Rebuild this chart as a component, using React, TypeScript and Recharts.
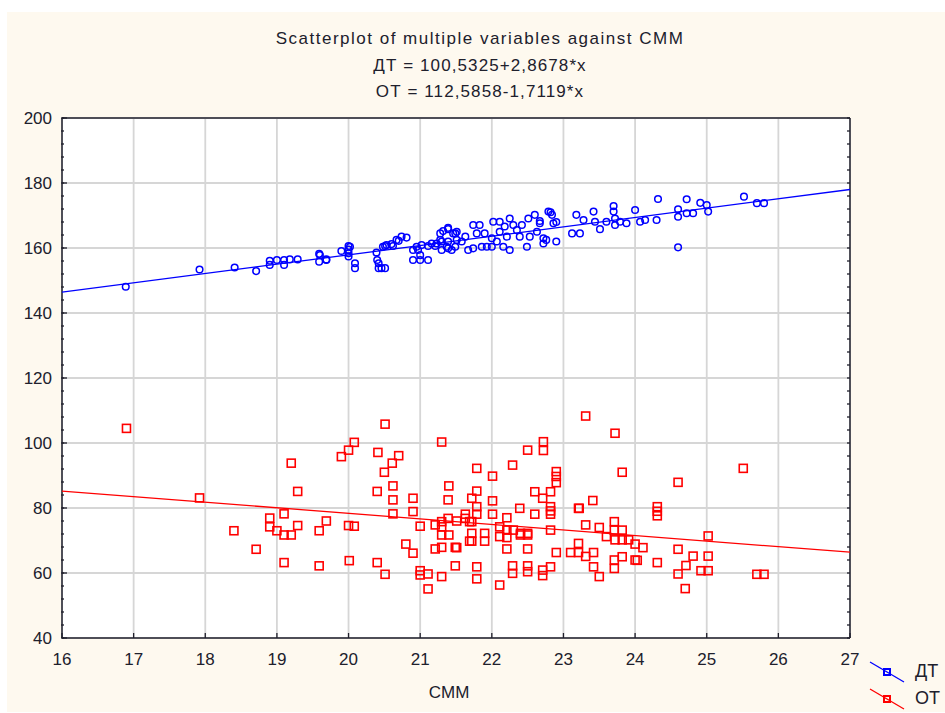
import React from 'react';
import {
  ComposedChart,
  Scatter,
  XAxis,
  YAxis,
  CartesianGrid,
  Legend,
} from 'recharts';

const dtPoints: [number, number][] = [
  [16.89, 148.1], [17.92, 153.4], [18.41, 154.0], [18.71, 152.9],
  [18.9, 156.1], [18.9, 154.8], [19.0, 156.3], [19.1, 156.3], [19.18, 156.5], [19.29, 156.5], [19.1, 154.8],
  [19.59, 158.2], [19.59, 155.8], [19.69, 156.5], [19.6, 157.8], [19.69, 156.3],
  [19.9, 159.1], [20.0, 160.6], [20.0, 158.4], [20.09, 155.3], [20.09, 153.8], [20.0, 159.5], [20.02, 160.4], [20.0, 157.4],
  [20.39, 158.6], [20.4, 156.3], [20.42, 153.8], [20.51, 153.8], [20.46, 153.8], [20.42, 155.3],
  [20.51, 160.6], [20.6, 161.2], [20.7, 162.2], [20.81, 163.2], [20.62, 160.6], [20.48, 160.4], [20.53, 160.9], [20.67, 162.5], [20.74, 163.5],
  [20.9, 159.4], [20.9, 156.3], [21.0, 156.3], [21.11, 156.3], [21.0, 157.8], [21.02, 160.9], [21.11, 160.6], [21.21, 160.6], [20.95, 160.4], [20.97, 159.4], [21.16, 161.4], [21.23, 161.4],
  [21.28, 164.5], [21.39, 165.8], [21.49, 164.5], [21.3, 159.4], [21.39, 159.9], [21.49, 160.4], [21.3, 162.0], [21.39, 162.0],
  [21.32, 165.2], [21.39, 166.2], [21.28, 162.5], [21.37, 160.4], [21.46, 164.5], [21.51, 165.0], [21.51, 162.5], [21.58, 162.0], [21.63, 163.5],
  [21.67, 159.4], [21.74, 159.9], [21.74, 167.1], [21.83, 167.1], [21.9, 164.5], [21.79, 164.5], [21.86, 160.4], [21.93, 160.4], [21.44, 159.4],
  [22.0, 163.0], [22.02, 168.1], [22.11, 168.1], [22.11, 165.0], [22.18, 166.6], [22.21, 163.5], [22.25, 169.1], [22.3, 167.1], [22.35, 165.5],
  [22.39, 163.5], [22.42, 167.1], [22.51, 169.1], [22.53, 163.5], [22.6, 170.2], [22.63, 165.0], [22.67, 167.6], [22.72, 161.4], [22.79, 171.2],
  [22.84, 170.2], [22.86, 167.6], [22.9, 162.0], [22.76, 162.5], [22.16, 160.4], [22.25, 159.4], [22.49, 160.4], [22.07, 162.0], [22.0, 160.4],
  [22.82, 171.0], [22.9, 168.0], [22.67, 168.3], [22.72, 163.0],
  [23.18, 170.2], [23.23, 164.5], [23.12, 164.5], [23.28, 168.6], [23.42, 171.2], [23.44, 168.1], [23.51, 165.8], [23.6, 168.1], [23.7, 172.9],
  [23.7, 171.2], [23.72, 167.1], [23.72, 169.1], [23.79, 168.1], [23.88, 167.6], [24.0, 171.7], [24.07, 168.1], [24.14, 168.6], [24.3, 168.6],
  [24.32, 175.1], [24.6, 171.9], [24.6, 169.6], [24.72, 175.0], [24.72, 170.7], [24.81, 170.7], [24.91, 173.9], [25.0, 173.2], [25.02, 171.2],
  [25.52, 175.8], [25.7, 173.8], [25.8, 173.8], [24.6, 160.2],
];

const otPoints: [number, number][] = [
  [16.9, 104.5], [17.92, 83.1], [18.4, 73.0], [18.71, 67.3], [18.9, 76.9], [18.9, 74.2], [19.0, 73.0], [19.1, 78.2], [19.2, 93.8],
  [19.1, 71.7], [19.2, 71.7], [19.29, 85.1], [19.29, 74.6], [19.1, 63.2], [19.59, 73.0], [19.69, 76.0], [19.59, 62.2],
  [19.9, 95.8], [20.0, 97.8], [20.08, 100.2], [20.0, 74.6], [20.08, 74.4], [20.01, 63.8],
  [20.51, 105.8], [20.41, 97.1], [20.7, 96.1], [20.61, 93.8], [20.5, 91.0], [20.4, 85.1], [20.62, 86.8], [20.62, 82.5], [20.62, 78.2],
  [20.4, 63.2], [20.51, 59.6],
  [20.9, 83.0], [20.9, 78.9], [21.0, 74.4], [20.8, 68.9], [20.9, 66.1], [21.0, 60.7], [21.0, 59.4], [21.11, 59.7], [21.11, 55.1],
  [21.3, 100.3], [21.4, 86.8], [21.39, 82.5], [21.39, 76.8], [21.21, 74.8], [21.3, 74.2], [21.3, 71.7], [21.4, 71.7], [21.21, 67.4],
  [21.3, 67.9], [21.49, 67.9], [21.49, 62.2], [21.3, 58.9],
  [21.3, 75.8], [21.51, 76.0], [21.63, 76.8], [21.69, 75.8], [21.69, 69.8], [21.51, 67.8],
  [22.5, 97.8], [22.72, 100.4], [22.72, 97.7], [21.79, 92.2], [22.29, 93.2], [22.01, 89.8], [22.9, 91.2], [22.9, 89.7], [22.9, 87.8],
  [21.79, 85.2], [22.6, 85.0], [22.82, 85.0], [22.71, 83.0], [21.72, 83.0], [22.01, 82.2], [22.82, 80.4], [22.82, 79.1], [22.82, 78.1],
  [22.39, 79.9], [22.6, 78.1], [23.21, 79.9], [23.41, 82.3], [21.79, 80.4], [21.79, 78.1], [21.63, 78.1], [22.01, 78.1], [22.21, 77.0], [21.72, 75.8],
  [22.11, 74.2], [22.21, 73.2], [22.3, 73.2], [22.4, 72.2], [22.5, 72.2], [22.82, 73.2], [23.31, 74.8], [23.5, 74.0], [23.71, 75.8],
  [23.71, 73.2], [23.82, 73.2],
  [21.72, 72.2], [21.72, 69.8], [21.9, 72.2], [21.9, 69.8], [22.11, 71.2], [22.21, 70.9], [22.4, 71.7], [22.5, 71.7],
  [22.21, 67.4], [22.5, 67.4], [22.9, 66.3], [23.1, 66.3], [23.21, 69.1], [23.21, 66.3], [23.31, 65.1], [23.42, 66.3], [23.42, 61.9],
  [23.5, 58.9], [23.71, 64.0], [23.82, 65.0], [23.71, 61.4], [24.0, 64.0],
  [21.79, 61.9], [21.79, 58.2], [22.11, 56.3], [22.29, 62.2], [22.29, 59.9], [22.5, 62.2], [22.5, 60.4], [22.71, 60.9], [22.71, 59.2], [22.82, 61.9],
  [23.31, 108.3], [23.72, 103.0], [25.51, 92.2], [24.6, 87.9], [24.31, 80.4], [24.31, 79.0], [24.31, 77.6], [23.82, 91.0], [23.22, 79.9],
  [23.6, 71.2], [23.72, 70.2], [23.82, 70.2], [23.91, 70.2], [24.0, 68.9], [24.11, 67.8], [25.02, 71.4], [24.6, 67.3], [24.81, 65.2],
  [25.02, 65.2], [24.71, 62.3], [24.6, 59.7], [24.92, 60.7], [25.02, 60.7], [24.7, 55.2], [25.7, 59.6], [25.8, 59.6], [24.03, 63.9], [24.31, 63.2],
];

// fitted lines, ends at the axis limits
const fitX = [16, 27];
const dtFitY = [146.4, 178.0];
const otFitY = [85.2, 66.4];

const xTicks = [16, 17, 18, 19, 20, 21, 22, 23, 24, 25, 26, 27];
const yTicks = [40, 60, 80, 100, 120, 140, 160, 180, 200];

const title = 'Scatterplot of multiple variables against CMM';
const eqDT = 'ДТ = 100,5325+2,8678*x';
const eqOT = 'ОТ = 112,5858-1,7119*x';

const BLUE = '#0000ff';
const RED = '#ff0000';
const INK = '#20202c';
const FONT = '"Liberation Sans", Arial, sans-serif';

// split each major interval into 5 for the small ticks
const subdivide = (major: number[]) => {
  const out: number[] = [];
  for (let i = 0; i < major.length - 1; i++) {
    const step = (major[i + 1] - major[i]) / 5;
    for (let k = 0; k < 5; k++) out.push(+(major[i] + k * step).toFixed(4));
  }
  out.push(major[major.length - 1]);
  return out;
};
const xMinor = subdivide(xTicks);
const yMinor = subdivide(yTicks);

const toRows = (pts: [number, number][]) => pts.map(([x, y]) => ({ x, y }));
const dtData = toRows(dtPoints);
const otData = toRows(otPoints);
const dtFit = fitX.map((x, i) => ({ x, y: dtFitY[i] }));
const otFit = fitX.map((x, i) => ({ x, y: otFitY[i] }));

const OpenCircle = (p: any) => (
  <circle cx={p.cx} cy={p.cy} r={3.3} fill="none" stroke={BLUE} strokeWidth={1.5} />
);
const OpenSquare = (p: any) => (
  <rect x={p.cx - 4} y={p.cy - 4} width={8} height={8} fill="none" stroke={RED} strokeWidth={1.6} />
);
const NoDot = () => <g />;

// tick renderers (tickSize 0, so x/y sit on the axis line)
const BottomTick = ({ x, y, payload }: any) => (
  <g>
    <line x1={x} x2={x} y1={y} y2={y - 5} stroke={INK} strokeWidth={1.3} />
    <text x={x} y={y + 15} dy="0.71em" textAnchor="middle" fill={INK} fontSize={17} fontFamily={FONT}>
      {payload.value}
    </text>
  </g>
);
const LeftTick = ({ x, y, payload }: any) => (
  <g>
    <line x1={x} x2={x + 5} y1={y} y2={y} stroke={INK} strokeWidth={1.3} />
    <text x={x - 10} y={y} dy="0.35em" textAnchor="end" fill={INK} fontSize={17} fontFamily={FONT}>
      {payload.value}
    </text>
  </g>
);
const MinorBottom = ({ x, y }: any) => <line x1={x} x2={x} y1={y} y2={y - 3} stroke={INK} strokeWidth={1.3} />;
const MinorTop = ({ x, y }: any) => <line x1={x} x2={x} y1={y} y2={y + 3} stroke={INK} strokeWidth={1.3} />;
const MinorLeft = ({ x, y }: any) => <line x1={x} x2={x + 3} y1={y} y2={y} stroke={INK} strokeWidth={1.3} />;
const MinorRight = ({ x, y }: any) => <line x1={x} x2={x - 3} y1={y} y2={y} stroke={INK} strokeWidth={1.3} />;

const LegendBox = ({ payload }: any) => (
  <div style={{ fontFamily: FONT, fontSize: 18, color: INK }}>
    {(payload || []).map((entry: any) => (
      <div key={entry.value} style={{ display: 'flex', alignItems: 'center', height: 27 }}>
        <svg width={36} height={22}>
          <line x1={1} y1={1} x2={35} y2={21} stroke={entry.color} strokeWidth={1.3} />
          <rect x={15} y={8} width={6} height={6} fill="none" stroke={entry.color} strokeWidth={2} />
        </svg>
        <span style={{ marginLeft: 10 }}>{entry.value}</span>
      </div>
    ))}
  </div>
);

const axisLine = { stroke: INK, strokeWidth: 1.5 };

export default function App() {
  return (
    <div style={{ position: 'absolute', left: 0, top: 0, width: 945, height: 713, background: '#fff' }}>
      <div style={{ position: 'absolute', left: 7, top: 12, width: 938, height: 700, background: '#fef9ef' }} />
      <div style={{ position: 'absolute', left: 0, top: 29, width: 960, textAlign: 'center', fontFamily: FONT, color: INK }}>
        <div style={{ fontSize: 17, letterSpacing: 1.5, height: 27 }}>{title}</div>
        <div style={{ fontSize: 17, letterSpacing: 1.1, height: 26 }}>{eqDT}</div>
        <div style={{ fontSize: 17, letterSpacing: 1.1 }}>{eqOT}</div>
      </div>
      <div style={{ position: 'absolute', left: 0, top: 0 }}>
        {/* axes need a non-zero size to render, so each eats 1px of margin */}
        <ComposedChart width={945} height={713} margin={{ top: 117, right: 94, bottom: 73, left: 60 }}>
          <CartesianGrid fill="#fff" stroke="#d6d6d6" strokeWidth={1.8} />
          <XAxis
            dataKey="x"
            type="number"
            domain={[16, 27]}
            ticks={xTicks}
            interval={0}
            height={1}
            tickSize={0}
            tickMargin={0}
            tickLine={false}
            axisLine={axisLine}
            tick={<BottomTick />}
            allowDataOverflow
            label={{ value: 'CMM', position: 'bottom', offset: 47, dx: -7, fill: INK, fontSize: 17, fontFamily: FONT }}
          />
          <XAxis xAxisId="xminor" type="number" domain={[16, 27]} ticks={xMinor} interval={0} height={1}
            tickSize={0} tickMargin={0} tickLine={false} axisLine={false} tick={<MinorBottom />} allowDataOverflow />
          <XAxis xAxisId="xtop" orientation="top" type="number" domain={[16, 27]} ticks={xMinor} interval={0} height={1}
            tickSize={0} tickMargin={0} tickLine={false} axisLine={axisLine} tick={<MinorTop />} allowDataOverflow />
          <YAxis
            dataKey="y"
            type="number"
            domain={[40, 200]}
            ticks={yTicks}
            interval={0}
            width={1}
            tickSize={0}
            tickMargin={0}
            tickLine={false}
            axisLine={axisLine}
            tick={<LeftTick />}
            allowDataOverflow
          />
          <YAxis yAxisId="yminor" type="number" domain={[40, 200]} ticks={yMinor} interval={0} width={1}
            tickSize={0} tickMargin={0} tickLine={false} axisLine={false} tick={<MinorLeft />} allowDataOverflow />
          <YAxis yAxisId="yright" orientation="right" type="number" domain={[40, 200]} ticks={yMinor} interval={0} width={1}
            tickSize={0} tickMargin={0} tickLine={false} axisLine={axisLine} tick={<MinorRight />} allowDataOverflow />

          <Legend
            layout="vertical"
            align="center"
            verticalAlign="middle"
            content={<LegendBox />}
            wrapperStyle={{ left: 869, top: 658, width: 80 }}
          />

          <Scatter data={dtFit} line={{ stroke: BLUE, strokeWidth: 1.3 }} shape={NoDot} legendType="none" isAnimationActive={false} />
          <Scatter data={otFit} line={{ stroke: RED, strokeWidth: 1.3 }} shape={NoDot} legendType="none" isAnimationActive={false} />
          <Scatter name="ДТ" data={dtData} fill={BLUE} stroke={BLUE} shape={OpenCircle} isAnimationActive={false} />
          <Scatter name="ОТ" data={otData} fill={RED} stroke={RED} shape={OpenSquare} isAnimationActive={false} />
        </ComposedChart>
      </div>
    </div>
  );
}
